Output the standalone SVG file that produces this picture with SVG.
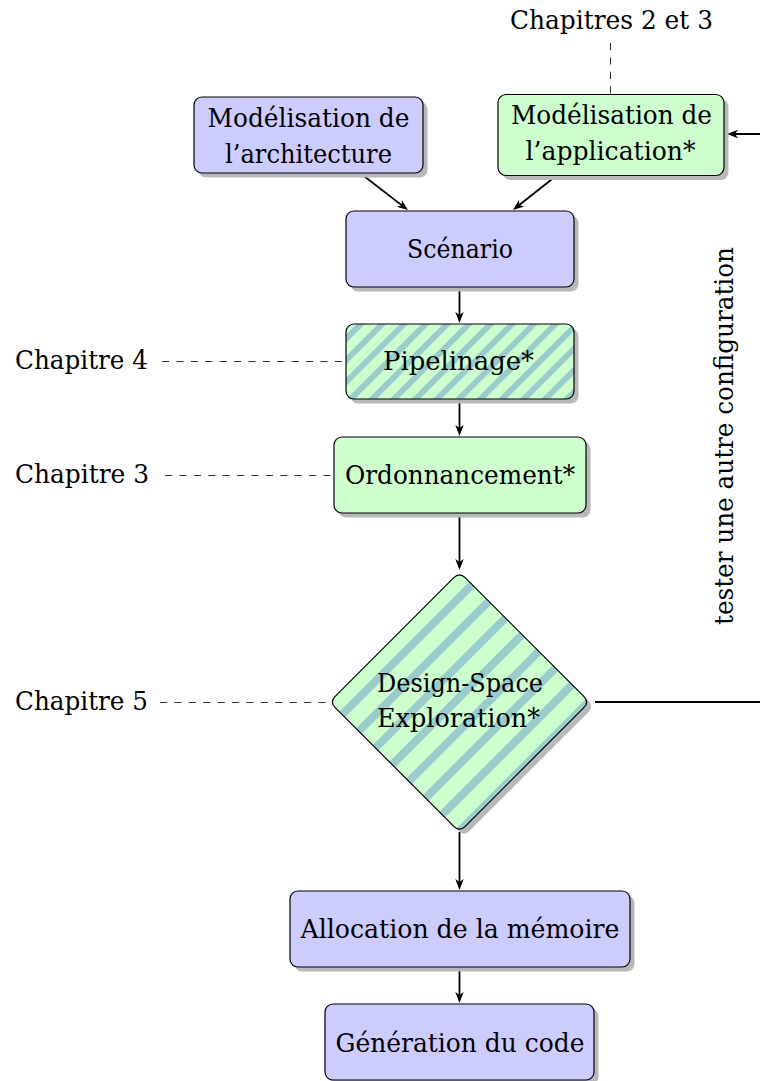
<svg xmlns="http://www.w3.org/2000/svg" width="760" height="1081" viewBox="0 0 760 1081">
<style>
  text { font-family: "DejaVu Serif", "Liberation Serif", serif; font-size: 26px; fill: #000; }
  .c { text-anchor: middle; }
  .box { stroke: #000; stroke-width: 1.2; }
  .blue { fill: #ccccff; }
  .green { fill: #ccffcc; }
  .shadow { fill: #b8b8b8; filter: url(#blur); }
  .arrow { fill: none; stroke: #000; stroke-width: 1.8; marker-end: url(#ah); }
  .dash { fill: none; stroke: #333; stroke-width: 1.1; stroke-dasharray: 7.2 7.2; }
</style>
<defs>
  <filter id="blur" x="-10%" y="-10%" width="120%" height="120%">
    <feGaussianBlur stdDeviation="0.7"/>
  </filter>
  <marker id="ah" viewBox="-8 -5 14 10" refX="0" refY="0" markerWidth="14" markerHeight="10" orient="auto" markerUnits="userSpaceOnUse" overflow="visible">
    <path d="M4,0 L-7,-4.2 L-4,0 L-7,4.2 Z" fill="#000"/>
  </marker>
  <pattern id="stripesP" patternUnits="userSpaceOnUse" width="15.3" height="20" x="6.95" patternTransform="rotate(45)">
    <rect x="0" y="0" width="5.9" height="20" fill="#99cccc"/>
  </pattern>
  <pattern id="stripesD" patternUnits="userSpaceOnUse" width="23.6" height="20" x="11.6" patternTransform="rotate(45)">
    <rect x="0" y="0" width="8" height="20" fill="#99cccc"/>
  </pattern>
</defs>

<g id="connectors">
  <line class="arrow" x1="360" y1="173" x2="404.8" y2="207.6"/>
  <line class="arrow" x1="556" y1="176" x2="516.1" y2="207.5"/>
  <line class="arrow" x1="459.5" y1="287" x2="459.5" y2="319"/>
  <line class="arrow" x1="459.5" y1="399" x2="459.5" y2="432"/>
  <line class="arrow" x1="459.5" y1="513" x2="459.5" y2="566"/>
  <line class="arrow" x1="459.5" y1="832" x2="459.5" y2="886"/>
  <line class="arrow" x1="459.5" y1="967" x2="459.5" y2="999"/>
  <path class="arrow" d="M595,702 H800 V134 H731"/>
  <line class="dash" x1="610.5" y1="43" x2="610.5" y2="95"/>
  <line class="dash" x1="162" y1="361.5" x2="346" y2="361.5"/>
  <line class="dash" x1="165" y1="475.5" x2="334" y2="475.5"/>
  <line class="dash" x1="160" y1="702.5" x2="329.5" y2="702.5"/>
</g>

<g id="label-ch23">
  <text x="510" y="29" textLength="203" lengthAdjust="spacingAndGlyphs">Chapitres 2 et 3</text>
</g>
<g id="label-ch4">
  <text x="15" y="369" textLength="133" lengthAdjust="spacingAndGlyphs">Chapitre 4</text>
</g>
<g id="label-ch3">
  <text x="15" y="483" textLength="134" lengthAdjust="spacingAndGlyphs">Chapitre 3</text>
</g>
<g id="label-ch5">
  <text x="15" y="710" textLength="133" lengthAdjust="spacingAndGlyphs">Chapitre 5</text>
</g>
<g id="label-feedback">
  <text class="c" transform="translate(733,436) rotate(-90)" textLength="378" lengthAdjust="spacingAndGlyphs">tester une autre configuration</text>
</g>

<g id="node-arch">
  <rect class="shadow" x="198.5" y="101.5" width="229" height="76" rx="8"/>
  <rect class="box blue" x="194" y="97" width="229" height="76" rx="8"/>
  <text class="c" x="308.5" y="127" textLength="202" lengthAdjust="spacingAndGlyphs">Modélisation de</text>
  <text class="c" x="308.5" y="163" textLength="167" lengthAdjust="spacingAndGlyphs">l’architecture</text>
</g>

<g id="node-app">
  <rect class="shadow" x="502.5" y="99" width="226" height="81" rx="8"/>
  <rect class="box green" x="498" y="94.5" width="226" height="81" rx="8"/>
  <text class="c" x="611.5" y="124" textLength="201" lengthAdjust="spacingAndGlyphs">Modélisation de</text>
  <text class="c" x="610.5" y="160" textLength="170" lengthAdjust="spacingAndGlyphs">l’application*</text>
</g>

<g id="node-scenario">
  <rect class="shadow" x="350.5" y="215.5" width="228" height="76" rx="8"/>
  <rect class="box blue" x="346" y="211" width="228" height="76" rx="8"/>
  <text class="c" x="460" y="258" textLength="106" lengthAdjust="spacingAndGlyphs">Scénario</text>
</g>

<g id="node-pipelinage">
  <rect class="shadow" x="350.5" y="328.5" width="228" height="75" rx="8"/>
  <rect class="green" x="346" y="324" width="228" height="75" rx="8"/>
  <rect x="346" y="324" width="228" height="75" rx="8" fill="url(#stripesP)"/>
  <rect class="box" x="346" y="324" width="228" height="75" rx="8" fill="none"/>
  <text class="c" x="458.5" y="370" textLength="151" lengthAdjust="spacingAndGlyphs">Pipelinage*</text>
</g>

<g id="node-ordonnancement">
  <rect class="shadow" x="338.5" y="441.5" width="252" height="76" rx="8"/>
  <rect class="box green" x="334" y="437" width="252" height="76" rx="8"/>
  <text class="c" x="460" y="484" textLength="230" lengthAdjust="spacingAndGlyphs">Ordonnancement*</text>
</g>

<g id="node-dse">
  <path class="shadow" transform="translate(4.5,4.5)" d="M465.2,577.7 L583.8,696.3 Q589.5,702 583.8,707.7 L465.2,826.3 Q459.5,832 453.8,826.3 L335.2,707.7 Q329.5,702 335.2,696.3 L453.8,577.7 Q459.5,572 465.2,577.7 Z"/>
  <path class="green" d="M465.2,577.7 L583.8,696.3 Q589.5,702 583.8,707.7 L465.2,826.3 Q459.5,832 453.8,826.3 L335.2,707.7 Q329.5,702 335.2,696.3 L453.8,577.7 Q459.5,572 465.2,577.7 Z"/>
  <path fill="url(#stripesD)" d="M465.2,577.7 L583.8,696.3 Q589.5,702 583.8,707.7 L465.2,826.3 Q459.5,832 453.8,826.3 L335.2,707.7 Q329.5,702 335.2,696.3 L453.8,577.7 Q459.5,572 465.2,577.7 Z"/>
  <path class="box" fill="none" d="M465.2,577.7 L583.8,696.3 Q589.5,702 583.8,707.7 L465.2,826.3 Q459.5,832 453.8,826.3 L335.2,707.7 Q329.5,702 335.2,696.3 L453.8,577.7 Q459.5,572 465.2,577.7 Z"/>
  <text x="377" y="692" textLength="166" lengthAdjust="spacingAndGlyphs">Design-Space</text>
  <text x="377" y="727" textLength="163" lengthAdjust="spacingAndGlyphs">Exploration*</text>
</g>

<g id="node-allocation">
  <rect class="shadow" x="294.5" y="895.5" width="340" height="76" rx="8"/>
  <rect class="box blue" x="290" y="891" width="340" height="76" rx="8"/>
  <text class="c" x="460" y="938" textLength="319" lengthAdjust="spacingAndGlyphs">Allocation de la mémoire</text>
</g>

<g id="node-generation">
  <rect class="shadow" x="329.5" y="1008.5" width="269" height="76" rx="8"/>
  <rect class="box blue" x="325" y="1004" width="269" height="76" rx="8"/>
  <text class="c" x="460" y="1052" textLength="249" lengthAdjust="spacingAndGlyphs">Génération du code</text>
</g>
</svg>
